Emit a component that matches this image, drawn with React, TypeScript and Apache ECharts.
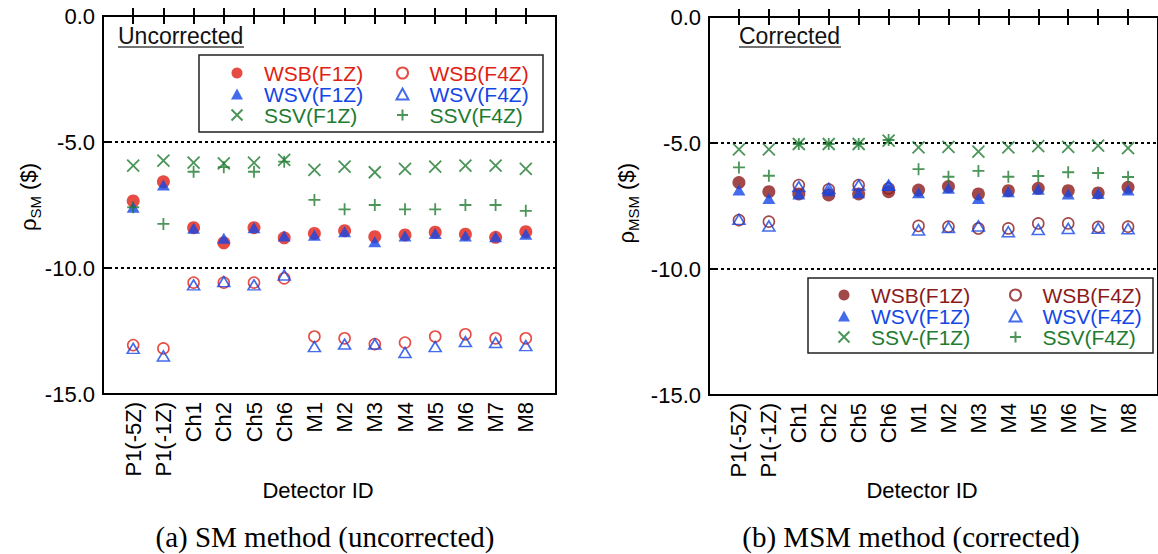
import React, { useEffect, useRef } from "react";
import * as echarts from "echarts";

// ---------- data ----------
const categories = ["P1(-5Z)", "P1(-1Z)", "Ch1", "Ch2", "Ch5", "Ch6", "M1", "M2", "M3", "M4", "M5", "M6", "M7", "M8"];
const yTickValues = [0, -5, -10, -15];

// (a) SM method (uncorrected)
const smWSB_F1Z = [-7.34, -6.58, -8.40, -9.00, -8.40, -8.80, -8.63, -8.52, -8.76, -8.69, -8.58, -8.66, -8.78, -8.56];
const smWSB_F4Z = [-13.06, -13.19, -10.58, -10.58, -10.58, -10.41, -12.72, -12.79, -13.02, -12.96, -12.72, -12.63, -12.79, -12.79];
const smWSV_F1Z = [-7.59, -6.71, -8.42, -8.82, -8.40, -8.73, -8.70, -8.56, -8.96, -8.73, -8.63, -8.73, -8.76, -8.66];
const smWSV_F4Z = [-13.19, -13.49, -10.67, -10.54, -10.67, -10.28, -13.12, -13.02, -13.02, -13.35, -13.12, -12.92, -12.96, -13.08];
const smSSV_F1Z = [-5.94, -5.74, -5.82, -5.85, -5.82, -5.71, -6.11, -5.98, -6.20, -6.07, -5.98, -5.94, -5.94, -6.07];
const smSSV_F4Z = [-7.59, -8.25, -6.18, -6.00, -6.18, -5.78, -7.30, -7.67, -7.50, -7.67, -7.67, -7.50, -7.50, -7.73];

// (b) MSM method (corrected)
const msmWSB_F1Z = [-6.57, -6.93, -7.02, -7.06, -7.02, -6.93, -6.87, -6.73, -7.02, -6.89, -6.80, -6.89, -6.98, -6.76];
const msmWSB_F4Z = [-8.06, -8.12, -6.67, -6.84, -6.67, -6.80, -8.29, -8.32, -8.39, -8.39, -8.19, -8.19, -8.33, -8.32];
const msmWSV_F1Z = [-6.87, -7.20, -7.02, -6.89, -6.97, -6.69, -6.97, -6.80, -7.20, -6.93, -6.84, -7.02, -7.00, -6.87];
const msmWSV_F4Z = [-8.03, -8.29, -6.73, -6.80, -6.67, -6.67, -8.45, -8.35, -8.29, -8.52, -8.43, -8.39, -8.38, -8.40];
const msmSSV_F1Z = [-5.25, -5.25, -5.04, -5.04, -5.04, -4.91, -5.17, -5.15, -5.34, -5.17, -5.12, -5.15, -5.10, -5.20];
const msmSSV_F4Z = [-5.97, -6.30, -5.04, -5.04, -5.04, -4.88, -6.04, -6.34, -6.11, -6.34, -6.31, -6.16, -6.19, -6.35];

// ---------- styles ----------
const SANS = "Liberation Sans, Arial, Helvetica, sans-serif";
const SERIF = "Liberation Serif, Times New Roman, serif";
const RED = "#e01f14";
const DARK_RED = "#8c1a1a";
const BLUE = "#1446e6";
const GREEN = "#1e7b30";
const X_PATH = "path://M0,0L12,12M12,0L0,12";
const PLUS_PATH = "path://M6,0L6,12M0,6L12,6";

type Kind = "dot" | "ring" | "tri" | "otri" | "x" | "plus";

function mkSeries(name: string, values: number[], kind: Kind, color: string) {
  const base: any = {
    type: "scatter",
    name,
    xAxisIndex: 0,
    yAxisIndex: 0,
    data: values.map((v, i) => [i + 1, v]),
    silent: true,
    symbolKeepAspect: true,
    emphasis: { disabled: true },
  };
  if (kind === "dot") {
    base.symbol = "circle";
    base.symbolSize = 13;
    base.itemStyle = { color };
  } else if (kind === "ring") {
    base.symbol = "circle";
    base.symbolSize = 11;
    base.itemStyle = { color: "none", borderColor: color, borderWidth: 1.6 };
  } else if (kind === "tri") {
    base.symbol = "triangle";
    base.symbolSize = [13, 11];
    base.itemStyle = { color };
  } else if (kind === "otri") {
    base.symbol = "triangle";
    base.symbolSize = [12, 10];
    base.itemStyle = { color: "none", borderColor: color, borderWidth: 1.6 };
  } else if (kind === "x") {
    base.symbol = X_PATH;
    base.symbolSize = 12;
    base.itemStyle = { color: "none", borderColor: color, borderWidth: 1.8 };
  } else {
    base.symbol = PLUS_PATH;
    base.symbolSize = 12;
    base.itemStyle = { color: "none", borderColor: color, borderWidth: 1.8 };
  }
  return base;
}

interface PanelSpec {
  gridLeft: number;
  gridTop: number;
  gridWidth: number;
  gridHeight: number;
  series: { name: string; values: number[]; kind: Kind; color: string }[];
  legendCol1Left: number;
  legendCol2Left: number;
  legendTop: number;
  legendBox: { x: number; y: number; w: number; h: number };
  title: string;
  titleX: number;
  titleUnderline: number;
  yLabelX: number;
  yLabelSub: string;
  xTitleX: number;
  caption: string;
  captionX: number;
}

function buildOption(p: PanelSpec): any {
  const axisCats = ["", ...categories, ""];
  const tickInterval = (i: number) => i > 0 && i < axisCats.length - 1;
  const tickCommon = {
    show: true,
    inside: true,
    length: 8,
    interval: tickInterval,
    lineStyle: { color: "#000", width: 2 },
  };
  const legendItem = (s: { name: string; color: string }) => ({
    name: s.name,
    textStyle: { color: s.color },
  });
  const legendCommon = {
    orient: "vertical",
    top: p.legendTop,
    itemWidth: 12,
    itemHeight: 11,
    itemGap: 0,
    padding: 0,
    selectedMode: false,
    symbolKeepAspect: true,
    textStyle: { fontSize: 21, lineHeight: 21, fontFamily: SANS, padding: [0, 0, 0, 16] },
  };
  const col1 = [p.series[0], p.series[2], p.series[4]];
  const col2 = [p.series[1], p.series[3], p.series[5]];
  return {
    animation: false,
    grid: {
      left: p.gridLeft,
      top: p.gridTop,
      width: p.gridWidth,
      height: p.gridHeight,
      show: true,
      borderColor: "#000",
      borderWidth: 2,
      backgroundColor: "transparent",
    },
    xAxis: [
      {
        type: "category",
        data: axisCats,
        boundaryGap: false,
        axisLine: { show: false },
        axisTick: tickCommon,
        axisLabel: {
          rotate: 90,
          interval: 0,
          fontSize: 22,
          margin: 8,
          color: "#000",
          fontFamily: SANS,
        },
        splitLine: { show: false },
      },
      {
        type: "category",
        position: "top",
        data: axisCats,
        boundaryGap: false,
        axisLine: { show: false },
        axisTick: tickCommon,
        axisLabel: { show: false },
        splitLine: { show: false },
      },
    ],
    yAxis: {
      type: "value",
      min: yTickValues[yTickValues.length - 1],
      max: yTickValues[0],
      interval: 5,
      axisLine: { show: false },
      axisTick: { show: true, inside: true, length: 6, lineStyle: { color: "#000", width: 2 } },
      axisLabel: {
        formatter: (v: number) => v.toFixed(1),
        fontSize: 22,
        margin: 8,
        color: "#000",
        fontFamily: SANS,
      },
      splitLine: { show: true, lineStyle: { color: "#000", width: 2, type: [3, 3] } },
    },
    legend: [
      { ...legendCommon, left: p.legendCol1Left, data: col1.map(legendItem) },
      { ...legendCommon, left: p.legendCol2Left, data: col2.map(legendItem) },
    ],
    graphic: [
      {
        type: "rect",
        z: -1,
        shape: { x: p.legendBox.x, y: p.legendBox.y, width: p.legendBox.w, height: p.legendBox.h },
        style: { fill: "#fff", stroke: "#222", lineWidth: 1.5 },
      },
      {
        type: "text",
        x: p.titleX,
        y: 36,
        style: { text: p.title, fontSize: 23, fontFamily: SANS, fill: "#111", align: "left", verticalAlign: "middle" },
      },
      {
        type: "line",
        shape: { x1: p.titleX, y1: 47, x2: p.titleX + p.titleUnderline, y2: 47 },
        style: { stroke: "#444", lineWidth: 1.5 },
      },
      {
        type: "text",
        x: p.yLabelX,
        y: 163,
        rotation: Math.PI / 2,
        style: {
          text: "{r|ρ}{s|" + p.yLabelSub + "}{r| ($)}",
          align: "right",
          verticalAlign: "middle",
          fill: "#000",
          rich: {
            r: { fontSize: 22, lineHeight: 30, fontFamily: SANS, fill: "#000" },
            s: { fontSize: 15, lineHeight: 15, fontFamily: SANS, fill: "#000", verticalAlign: "bottom" },
          },
        },
      },
      {
        type: "text",
        x: p.xTitleX,
        y: 490,
        style: { text: "Detector ID", fontSize: 22, fontFamily: SANS, fill: "#000", align: "center", verticalAlign: "middle" },
      },
      {
        type: "text",
        x: p.captionX,
        y: 537,
        style: { text: p.caption, fontSize: 29, fontFamily: SERIF, fill: "#000", align: "center", verticalAlign: "middle" },
      },
    ],
    series: p.series.map((s) => mkSeries(s.name, s.values, s.kind, s.color)),
  };
}

const leftSpec: PanelSpec = {
  gridLeft: 103,
  gridTop: 16,
  gridWidth: 453,
  gridHeight: 378,
  series: [
    { name: "WSB(F1Z)", values: smWSB_F1Z, kind: "dot", color: RED },
    { name: "WSB(F4Z)", values: smWSB_F4Z, kind: "ring", color: RED },
    { name: "WSV(F1Z)", values: smWSV_F1Z, kind: "tri", color: BLUE },
    { name: "WSV(F4Z)", values: smWSV_F4Z, kind: "otri", color: BLUE },
    { name: "SSV(F1Z)", values: smSSV_F1Z, kind: "x", color: GREEN },
    { name: "SSV(F4Z)", values: smSSV_F4Z, kind: "plus", color: GREEN },
  ],
  legendCol1Left: 229,
  legendCol2Left: 394,
  legendTop: 62.5,
  legendBox: { x: 199, y: 55, w: 344, h: 77 },
  title: "Uncorrected",
  titleX: 118,
  titleUnderline: 126,
  yLabelX: 28,
  yLabelSub: "SM",
  xTitleX: 318,
  caption: "(a) SM method (uncorrected)",
  captionX: 325,
};

const rightSpec: PanelSpec = {
  gridLeft: 109,
  gridTop: 17,
  gridWidth: 451,
  gridHeight: 378,
  series: [
    { name: "WSB(F1Z)", values: msmWSB_F1Z, kind: "dot", color: DARK_RED },
    { name: "WSB(F4Z)", values: msmWSB_F4Z, kind: "ring", color: DARK_RED },
    { name: "WSV(F1Z)", values: msmWSV_F1Z, kind: "tri", color: BLUE },
    { name: "WSV(F4Z)", values: msmWSV_F4Z, kind: "otri", color: BLUE },
    { name: "SSV-(F1Z)", values: msmSSV_F1Z, kind: "x", color: GREEN },
    { name: "SSV(F4Z)", values: msmSSV_F4Z, kind: "plus", color: GREEN },
  ],
  legendCol1Left: 236,
  legendCol2Left: 407,
  legendTop: 284.5,
  legendBox: { x: 208, y: 278, w: 345, h: 75 },
  title: "Corrected",
  titleX: 139,
  titleUnderline: 102,
  yLabelX: 26,
  yLabelSub: "MSM",
  xTitleX: 322,
  caption: "(b) MSM method (corrected)",
  captionX: 311,
};

function Panel({ spec, left, width }: { spec: PanelSpec; left: number; width: number }) {
  const ref = useRef<HTMLDivElement>(null);
  useEffect(() => {
    if (!ref.current) return;
    const chart = echarts.init(ref.current, undefined, { renderer: "svg" });
    chart.setOption(buildOption(spec));
    return () => chart.dispose();
  }, [spec]);
  return (
    <div
      ref={ref}
      style={{ position: "absolute", left, top: 0, width, height: 554, overflow: "hidden" }}
    />
  );
}

export default function App() {
  return (
    <div style={{ position: "fixed", left: 0, top: 0, width: 1158, height: 554, background: "#fff" }}>
      <Panel spec={leftSpec} left={0} width={600} />
      <Panel spec={rightSpec} left={600} width={558} />
    </div>
  );
}
